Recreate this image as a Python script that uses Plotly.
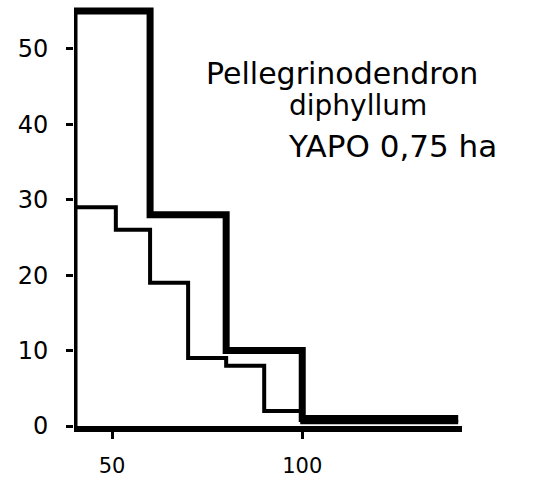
import plotly.graph_objects as go

# Data
thick_edges = [40, 60, 80, 100, 141]
thick_counts = [55, 28, 10, 1]
thin_edges = [40, 51, 60, 70, 80, 90, 100, 141]
thin_counts = [29, 26, 19, 9, 8, 2, 0.5]
y_ticks = [0, 10, 20, 30, 40, 50]
x_ticks = [50, 100]
title_lines = ["Pellegrinodendron", "diphyllum", "YAPO 0,75 ha"]

def step(edges, counts):
    xs = [edges[0]] + list(edges)
    ys = [0] + list(counts) + [counts[-1]]
    return xs, ys

fig = go.Figure()
tx, ty = step(thin_edges, thin_counts)
fig.add_trace(go.Scatter(x=tx, y=ty, mode="lines", line=dict(shape="hv", color="black", width=4),
                         showlegend=False, hoverinfo="skip"))
kx, ky = step(thick_edges, thick_counts)
fig.add_trace(go.Scatter(x=kx, y=ky, mode="lines", line=dict(shape="hv", color="black", width=7),
                         showlegend=False, hoverinfo="skip"))

font = dict(family="DejaVu Sans, sans-serif", color="black")

L, R, T, B = 74, 72, 2, 53
fig.update_layout(
    width=534, height=479,
    margin=dict(l=L, r=R, t=T, b=B, autoexpand=False),
    paper_bgcolor="white", plot_bgcolor="white",
    showlegend=False,
    xaxis=dict(range=[40, 142], tickvals=x_ticks, ticks="outside", ticklen=7, tickwidth=3,
               tickcolor="black", showgrid=False, zeroline=False, showline=True,
               linecolor="black", linewidth=6, ticklabelstandoff=9, automargin=False,
               tickfont=dict(size=21, **font)),
    yaxis=dict(range=[0, 56.2], tickvals=y_ticks, ticks="outside", ticklen=7, tickwidth=3,
               tickcolor="black", showgrid=False, zeroline=False, showline=False,
               ticklabelstandoff=13, automargin=False, tickfont=dict(size=24, **font)),
)

positions = [(342, 74, 30), (358, 106, 28), (392, 146, 31)]
for text, (px, py, sz) in zip(title_lines, positions):
    fig.add_annotation(text=text, xref="paper", yref="paper",
                       x=(px - L) / (534 - L - R), y=1 - (py - T) / (479 - T - B),
                       showarrow=False, xanchor="center", yanchor="middle",
                       font=dict(size=sz, **font))

fig.write_html("out.html", config={"displayModeBar": False},
               post_script="document.body.style.margin='0';document.body.style.overflow='hidden';")
